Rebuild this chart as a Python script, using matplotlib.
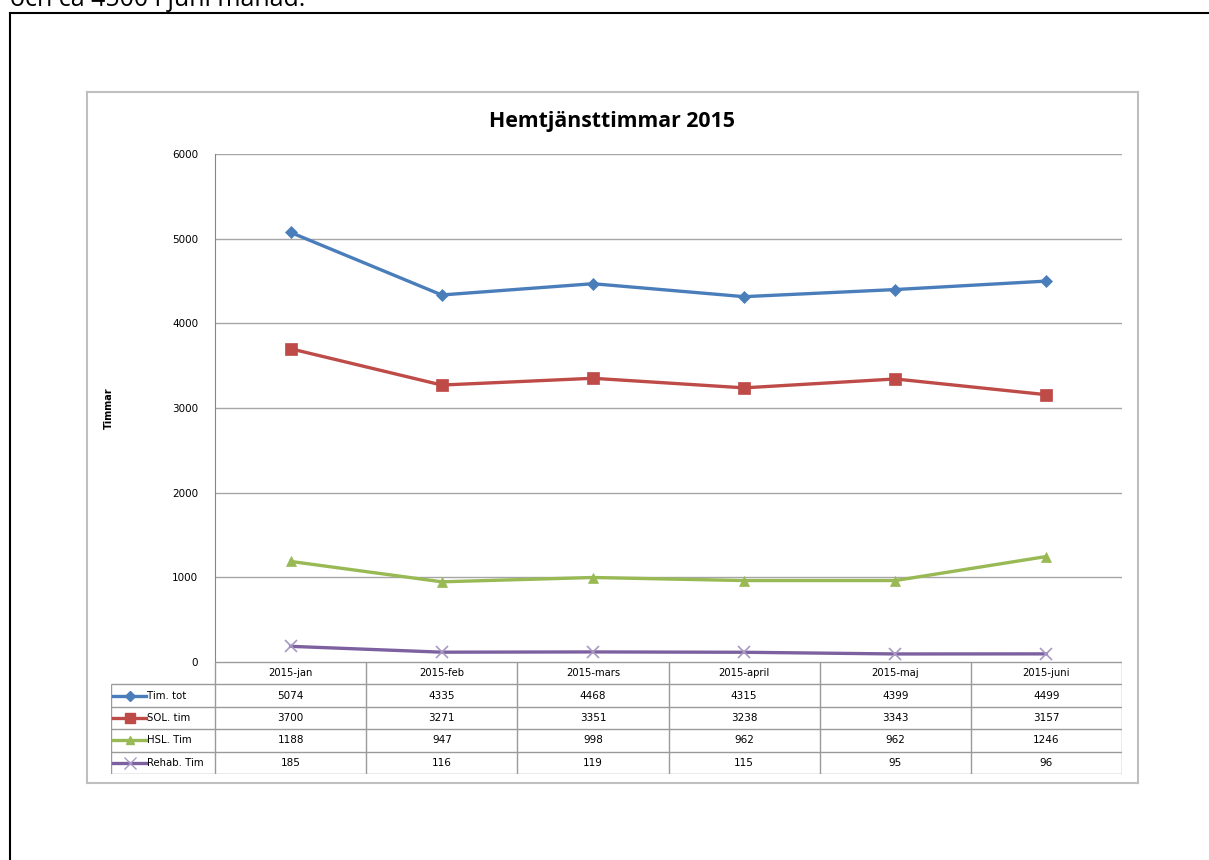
import matplotlib.pyplot as plt
from matplotlib.lines import Line2D

months = ["2015-jan", "2015-feb", "2015-mars", "2015-april", "2015-maj", "2015-juni"]
series_names = ["Tim. tot", "SOL. tim", "HSL. Tim", "Rehab. Tim"]
tim_tot = [5074, 4335, 4468, 4315, 4399, 4499]
sol_tim = [3700, 3271, 3351, 3238, 3343, 3157]
hsl_tim = [1188, 947, 998, 962, 962, 1246]
rehab_tim = [185, 116, 119, 115, 95, 96]
y_ticks = [0, 1000, 2000, 3000, 4000, 5000, 6000]

series = [tim_tot, sol_tim, hsl_tim, rehab_tim]
colors = ["#4a7ebb", "#be4b48", "#98b954", "#7d60a0"]
markers = ["D", "s", "^", "x"]
msizes = [6, 8, 7, 9]
mcolors = ["#4a7ebb", "#be4b48", "#98b954", "#a898c4"]

W, H = 1209, 860
fig = plt.figure(figsize=(W / 100, H / 100), dpi=100)


def box(x0, y0, x1, y1):
    # pixel box (top-left origin) -> figure fraction
    return [x0 / W, 1 - y1 / H, (x1 - x0) / W, (y1 - y0) / H]


# page text (cut off at the top like the screenshot) and border
fig.text(10 / W, 1 - 6 / H, "och ca 4500 i juni månad.", fontsize=18,
         family="Open Sans", va="baseline", ha="left")
fig.add_artist(Line2D([10 / W, 1], [1 - 13 / H, 1 - 13 / H], color="black", lw=1.5))
fig.add_artist(Line2D([10 / W, 10 / W], [0, 1 - 13 / H], color="black", lw=1.5))

# chart area frame
frame = fig.add_axes(box(87, 92, 1138, 783))
frame.set_xticks([])
frame.set_yticks([])
for s in frame.spines.values():
    s.set_color("#bfbfbf")
    s.set_linewidth(1.5)
frame.patch.set_alpha(0)

fig.text(612 / W, 1 - 122 / H, "Hemtjänsttimmar 2015", fontsize=15.3,
         family="Open Sans", weight="bold", ha="center", va="center")

# plot area
ax = fig.add_axes(box(215, 154, 1122, 662))
x = list(range(len(months)))
for vals, c, m, ms, mc in zip(series, colors, markers, msizes, mcolors):
    ax.plot(x, vals, color=c, lw=2.4, marker=m, markersize=ms,
            markerfacecolor=mc, markeredgecolor=mc, markeredgewidth=1.2 if m == "x" else 0.5,
            zorder=3)
ax.set_xlim(-0.5, len(months) - 0.5)
ax.set_ylim(0, 6000)
ax.set_yticks(y_ticks)
ax.set_yticklabels([str(v) for v in y_ticks], fontsize=7.5)
ax.set_xticks([])
ax.tick_params(axis="y", length=0, pad=12)
ax.grid(axis="y", color="#a6a6a6", lw=1)
for name, s in ax.spines.items():
    if name == "left":
        s.set_color("#868686")
    else:
        s.set_visible(False)
ax.set_ylabel("Timmar", fontsize=7, weight="bold")
ax.yaxis.set_label_coords((114 - 215) / (1122 - 215), 0.5)

# data table below the plot
tab = fig.add_axes(box(111, 662, 1122, 774))
label_w = (215 - 111) / 151
tab.set_xlim(-0.5 - label_w, len(months) - 0.5)
tab.set_ylim(len(series) + 1, 0)
tab.axis("off")
line_c = "#9a9a9a"
n = len(series)
# horizontal lines
tab.hlines(0, -0.5, len(months) - 0.5, color=line_c, lw=1)
for r in range(1, n + 2):
    tab.hlines(r, -0.5 - label_w, len(months) - 0.5, color=line_c, lw=1)
# vertical lines
tab.vlines(-0.5 - label_w, 1, n + 1, color=line_c, lw=1)
for c in range(len(months) + 1):
    tab.vlines(c - 0.5, 0, n + 1, color=line_c, lw=1)

for j, mth in enumerate(months):
    tab.text(j, 0.5, mth, ha="center", va="center", fontsize=7.2)
for i, (name, vals) in enumerate(zip(series_names, series)):
    yy = i + 1.5
    for j, v in enumerate(vals):
        tab.text(j, yy, str(v), ha="center", va="center", fontsize=7.5)
    kx0 = -0.5 - label_w + 0.015
    kx1 = kx0 + 0.215
    tab.plot([kx0, kx1], [yy, yy], color=colors[i], lw=2.4, clip_on=False)
    tab.plot([(kx0 + kx1) / 2], [yy], marker=markers[i], markersize=msizes[i] - 1,
             color=mcolors[i], markeredgecolor=mcolors[i], clip_on=False)
    tab.text(kx1 + 0.005, yy, name, ha="left", va="center", fontsize=7.3)

fig.savefig("out.png", dpi=100)
